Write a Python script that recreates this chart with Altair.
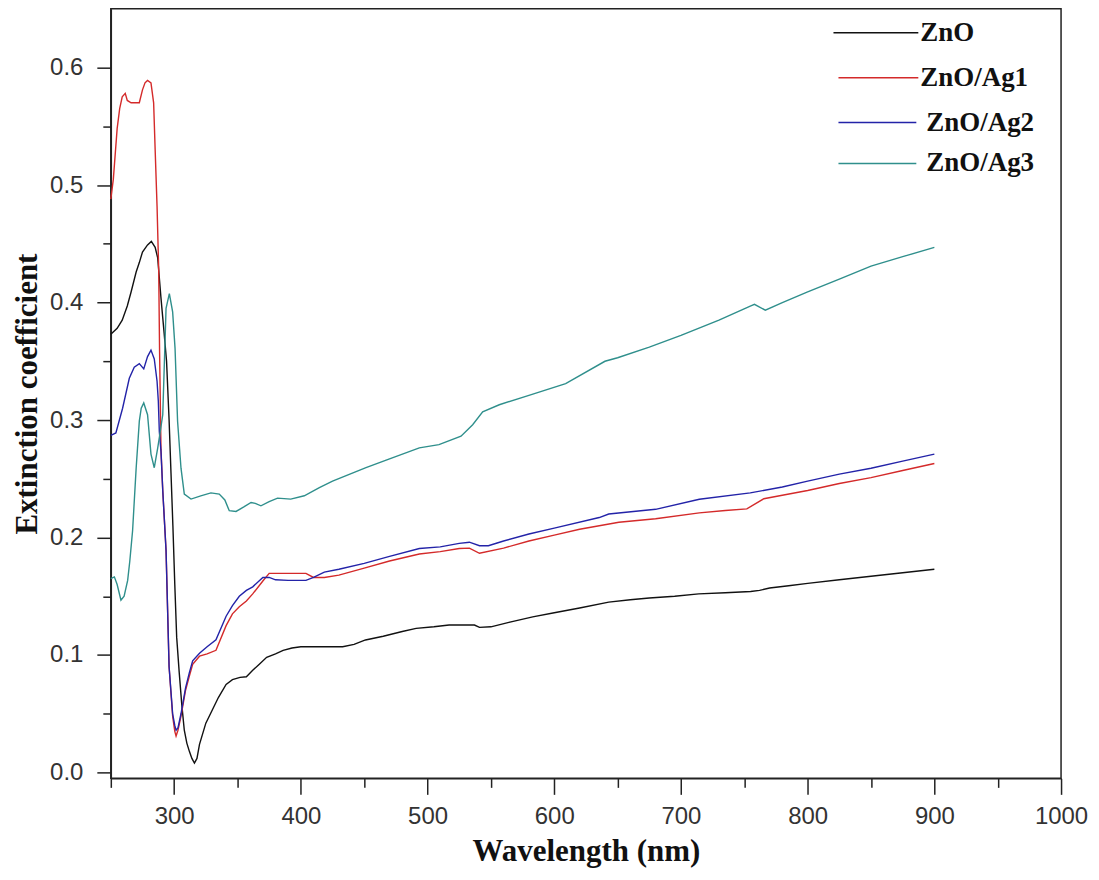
import altair as alt
import pandas as pd

names = ["ZnO", "ZnO/Ag1", "ZnO/Ag2", "ZnO/Ag3"]
colors = ["#111111", "#d42a2a", "#2323a8", "#2f8f8c"]

zno_x = [250, 255, 259, 263, 266, 270, 272.5, 275, 279, 282, 285, 287, 289.5, 292, 294, 296, 297.5, 299,
         300.5, 302, 304, 306, 308, 310, 312, 314, 316, 318, 320, 325, 330, 335, 341, 346, 352, 357, 362,
         367, 373, 380, 386, 393, 400, 415, 433, 442, 451, 465, 480, 491, 505, 517, 537, 541, 550, 565,
         583, 600, 620, 643, 660, 675, 695, 714, 735, 755, 762, 770, 785, 800, 825, 850, 875, 900]
zno_y = [0.373, 0.378, 0.385, 0.397, 0.409, 0.426, 0.434, 0.443, 0.449, 0.452, 0.447, 0.438, 0.405, 0.375,
         0.35, 0.30, 0.255, 0.21, 0.16, 0.115, 0.085, 0.058, 0.036, 0.025, 0.018, 0.012, 0.008, 0.012,
         0.024, 0.042, 0.053, 0.064, 0.075, 0.079, 0.081, 0.0815, 0.087, 0.092, 0.098, 0.101, 0.104, 0.106,
         0.107, 0.107, 0.107, 0.109, 0.1128, 0.116, 0.12, 0.1227, 0.124, 0.1255, 0.1255, 0.1235, 0.124,
         0.128, 0.1325, 0.136, 0.14, 0.145, 0.147, 0.1485, 0.150, 0.152, 0.153, 0.154, 0.155, 0.157,
         0.159, 0.161, 0.164, 0.167, 0.17, 0.173]

ag1_x = [250, 252, 255, 257, 259, 261.4, 263, 266, 269, 272.5, 275, 277, 279, 281.7, 283.8, 285, 286.5,
         287.8, 288.5, 289.6, 291, 293.6, 296, 298.8, 300.5, 301.5, 303, 305.4, 309, 312, 314.6, 320, 326,
         333, 341, 346, 351.4, 357, 362, 370, 375, 390, 404, 410, 418.5, 430, 450, 470, 493.5, 510, 525,
         533, 541, 560, 580, 600, 620, 651, 680, 714.5, 735, 752, 765.4, 780, 800, 825, 850, 875, 900]
ag1_y = [0.488, 0.505, 0.548, 0.565, 0.575, 0.578, 0.572, 0.570, 0.570, 0.570, 0.581, 0.587, 0.589, 0.587,
         0.570, 0.530, 0.482, 0.428, 0.358, 0.275, 0.24, 0.189, 0.09, 0.048, 0.035, 0.031, 0.036, 0.048,
         0.070, 0.082, 0.092, 0.099, 0.101, 0.104, 0.125, 0.135, 0.141, 0.146, 0.152, 0.163, 0.1695,
         0.1695, 0.1695, 0.166, 0.166, 0.168, 0.174, 0.18, 0.186, 0.188, 0.1906, 0.191, 0.1866, 0.191,
         0.197, 0.202, 0.207, 0.213, 0.216, 0.221, 0.223, 0.2244, 0.233, 0.236, 0.240, 0.246, 0.251,
         0.257, 0.263]

ag2_x = [250, 254, 259.3, 264.6, 268.5, 272.5, 276, 279, 281.7, 284.3, 286.5, 287.5, 288.3, 289.6, 291,
         293.6, 296, 298.8, 300.5, 301.5, 303, 305.4, 309, 312, 314.6, 320, 326, 333, 341, 346, 351.4,
         357, 362, 370, 375, 380, 390, 404, 410, 418.5, 430, 450, 470, 493.5, 510, 525, 533, 541, 548,
         560, 580, 600, 635.5, 643, 680, 714.5, 754.7, 780, 800, 825, 850, 875, 900]
ag2_y = [0.287, 0.289, 0.310, 0.3355, 0.345, 0.348, 0.3435, 0.354, 0.3595, 0.352, 0.333, 0.316, 0.290,
         0.2735, 0.24, 0.189, 0.09, 0.05, 0.04, 0.036, 0.038, 0.05, 0.072, 0.085, 0.095, 0.1015, 0.107,
         0.113, 0.133, 0.142, 0.150, 0.155, 0.158, 0.166, 0.166, 0.164, 0.1635, 0.1635, 0.166, 0.1705,
         0.173, 0.178, 0.184, 0.1906, 0.192, 0.195, 0.196, 0.193, 0.193, 0.197, 0.203, 0.208, 0.217,
         0.220, 0.224, 0.2326, 0.238, 0.243, 0.248, 0.254, 0.259, 0.265, 0.271]

ag3_x = [250, 252.8, 255, 258, 260.5, 263.3, 265, 267.2, 270, 272.5, 274, 276, 279, 281.7, 284.3, 287,
         289, 291, 293.6, 296.2, 298.8, 300.7, 302.7, 305.4, 308, 313.3, 321, 329, 335.6, 340, 343.5,
         348.8, 355, 360.7, 364, 368.5, 375, 381.6, 392, 402.7, 414.6, 425, 451.4, 470, 493.5, 509,
         526.4, 535.6, 543.5, 556.6, 580, 609, 640, 650, 675, 700, 730, 754.7, 758, 766.6, 780, 800,
         825, 850, 875, 900]
ag3_y = [0.165, 0.1665, 0.160, 0.1466, 0.150, 0.1635, 0.180, 0.206, 0.259, 0.299, 0.310, 0.3145, 0.3045,
         0.271, 0.2594, 0.276, 0.29, 0.3045, 0.395, 0.4075, 0.392, 0.361, 0.299, 0.259, 0.237, 0.2327,
         0.2355, 0.238, 0.237, 0.232, 0.2228, 0.2222, 0.226, 0.2298, 0.229, 0.227, 0.2305, 0.2335,
         0.2327, 0.2355, 0.2425, 0.248, 0.2594, 0.267, 0.2763, 0.279, 0.2862, 0.296, 0.307, 0.313,
         0.321, 0.331, 0.350, 0.353, 0.362, 0.372, 0.385, 0.397, 0.3985, 0.3935, 0.400, 0.409, 0.420,
         0.431, 0.439, 0.447]

x_ticks = [250, 300, 350, 400, 450, 500, 550, 600, 650, 700, 750, 800, 850, 900, 950, 1000]
y_ticks = [0.0, 0.05, 0.1, 0.15, 0.2, 0.25, 0.3, 0.35, 0.4, 0.45, 0.5, 0.55, 0.6]

rows = []
for n, xs, ys in zip(names, [zno_x, ag1_x, ag2_x, ag3_x], [zno_y, ag1_y, ag2_y, ag3_y]):
    for a, b in zip(xs, ys):
        rows.append({"series": n, "wl": a, "k": b})
df = pd.DataFrame(rows)

lines = alt.Chart(df).mark_line(strokeWidth=1.4).encode(
    x=alt.X("wl:Q", title="Wavelength (nm)",
            scale=alt.Scale(domain=[250, 1000], nice=False, zero=False),
            axis=alt.Axis(values=x_ticks, format="d",
                          labelExpr="datum.value % 100 == 0 ? datum.label : ''",
                          tickSize={"condition": {"test": "datum.value % 100 != 0", "value": 9}, "value": 16},
                          labelPadding=10, titlePadding=8, labelFlush=False, labelOverlap=False)),
    y=alt.Y("k:Q", title="Extinction coefficient",
            scale=alt.Scale(domain=[-0.005, 0.65], nice=False, zero=False),
            axis=alt.Axis(values=y_ticks, format=".1f",
                          labelExpr="round(datum.value * 100) % 10 == 0 ? datum.label : ''",
                          tickSize={"condition": {"test": "round(datum.value * 100) % 10 != 0", "value": 8}, "value": 14},
                          labelPadding=14, titlePadding=6, labelOverlap=False)),
    color=alt.Color("series:N", scale=alt.Scale(domain=names, range=colors), legend=None),
)

# legend drawn as rules and texts in the top right corner
leg_pos = [(724, 809, 24, 811), (729, 809, 69, 811), (729, 807, 114, 817), (729, 807, 155, 817)]
layers = [lines]
for n, c, (x1, x2, yy, tx) in zip(names, colors, leg_pos):
    ldf = pd.DataFrame({"series": [n]})
    layers.append(alt.Chart(ldf).mark_rule(color=c, strokeWidth=1.5).encode(
        x=alt.value(x1), x2=alt.value(x2), y=alt.value(yy)))
    layers.append(alt.Chart(ldf).mark_text(align="left", baseline="middle", font="Liberation Serif",
                                           fontSize=27, fontWeight="bold", color="#111111").encode(
        x=alt.value(tx), y=alt.value(yy), text="series:N"))

chart = alt.layer(*layers).properties(
    width=952, height=771,
    autosize=alt.AutoSizeParams(type="none"),
    padding={"left": 103, "top": 0, "right": 30, "bottom": 90},
).configure_view(stroke="#222222", strokeWidth=1.5).configure_axis(
    grid=False, domainColor="#222222", domainWidth=1.5, tickColor="#222222", tickWidth=1.5,
    labelFont="Liberation Sans", labelFontSize=24, labelColor="#333333",
    titleFont="Liberation Serif", titleFontWeight="bold", titleFontSize=31, titleColor="#111111",
)

chart.save("out.html", embed_options={"renderer": "svg", "actions": False})
